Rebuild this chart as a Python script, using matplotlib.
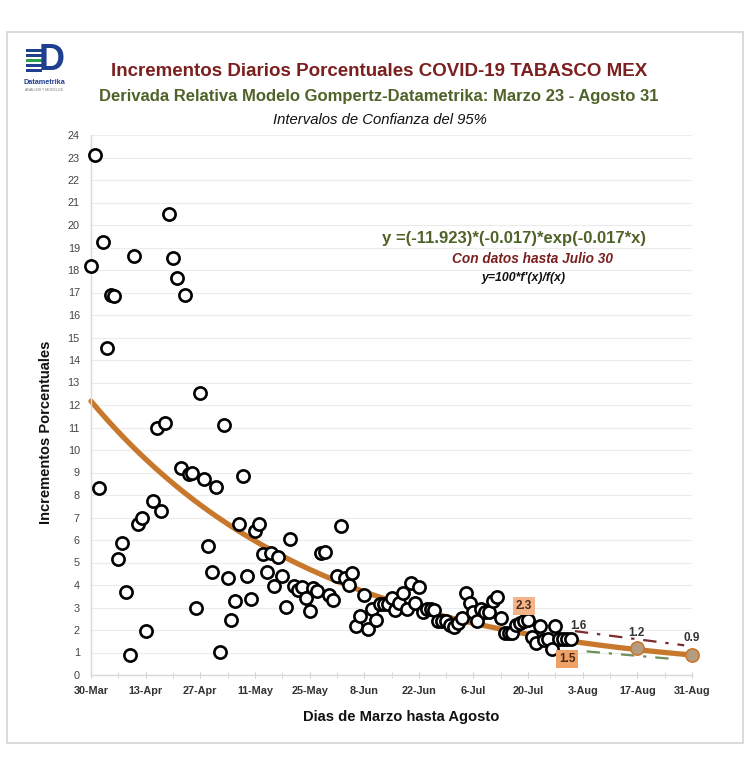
import matplotlib
matplotlib.use("Agg")
import matplotlib.pyplot as plt
import numpy as np
from matplotlib.patches import Rectangle

plt.rcParams['font.family'] = ['Liberation Sans', 'DejaVu Sans']

# ---------------- data ----------------
days = [0, 1, 2, 3, 4, 5, 6, 7, 8, 9, 10, 11, 12, 13, 14, 16, 17, 18, 19, 20,
        21, 22, 23, 24, 25, 26, 27, 28, 29, 30, 31, 32, 33, 34, 35, 36, 37, 38, 39, 40,
        41, 42, 43, 44, 45, 46, 47, 48, 49, 50, 51, 52, 53, 54, 55, 56, 57, 58, 59, 60,
        61, 62, 63, 64, 65, 66, 67, 68, 69, 70, 71, 72, 73, 74, 75, 76, 77, 78, 79, 80,
        81, 82, 83, 84, 85, 86, 87, 88, 89, 90, 91, 92, 93, 94, 95, 96, 97, 98, 99, 100,
        101, 102, 103, 104, 105, 106, 107, 108, 109, 110, 111, 112, 113, 114, 115, 116,
        117, 118, 119, 120, 121, 122, 123]
values = [18.2, 23.1, 8.3, 19.25, 14.55, 16.9, 16.85, 5.17, 5.88, 3.7, 0.89, 18.6, 6.72, 7.0,
          1.97, 7.72, 11.0, 7.3, 11.22, 20.5, 18.55, 17.65, 9.2, 16.9, 8.93, 8.98, 2.97, 12.53,
          8.7, 5.75, 4.59, 8.36, 1.04, 11.1, 4.3, 2.44, 3.3, 6.71, 8.84, 4.39, 3.39, 6.41, 6.71,
          5.36, 4.56, 5.41, 3.97, 5.24, 4.41, 3.04, 6.06, 3.97, 3.78, 3.93, 3.42, 2.83, 3.85,
          3.72, 5.41, 5.45, 3.56, 3.33, 4.4, 6.64, 4.32, 3.98, 4.55, 2.18, 2.63, 3.55, 2.03,
          2.92, 2.45, 3.15, 3.15, 3.17, 3.41, 2.89, 3.2, 3.63, 2.94, 4.07, 3.19, 3.9, 2.79,
          2.95, 2.92, 2.87, 2.41, 2.41, 2.41, 2.22, 2.12, 2.3, 2.55, 3.66, 3.21, 2.81, 2.41,
          2.92, 2.81, 2.81, 3.3, 3.45, 2.52, 1.87, 1.87, 1.87, 2.22, 2.3, 2.38, 2.45, 1.7,
          1.41, 2.16, 1.56, 1.59, 1.15, 2.16, 1.59, 1.59, 1.59, 1.59]

# Gompertz relative derivative model parameters (from the chart equation)
model_a = -11.923
model_b = -0.017
model_offset = 30          # model x of 30-Mar
curve_days = np.arange(0, 155)

# confidence interval lines
upper_days = [124, 152]
upper_vals = [1.95, 1.32]
lower_days = [127, 150]
lower_vals = [1.05, 0.7]

# projected points
proj_days = [140, 154]
proj_vals = [1.2, 0.9]

tick_days = [0, 14, 28, 42, 56, 70, 84, 98, 112, 126, 140, 154]
tick_labels = ['30-Mar', '13-Apr', '27-Apr', '11-May', '25-May', '8-Jun', '22-Jun',
               '6-Jul', '20-Jul', '3-Aug', '17-Aug', '31-Aug']

# ---------------- figure ----------------
W, H = 750, 776
fig = plt.figure(figsize=(W / 100, H / 100), dpi=100)
fig.patch.set_facecolor('white')

# outer frame
fig.add_artist(Rectangle((7 / W, 1 - 743 / H), (743 - 7) / W, (743 - 32) / H,
                         transform=fig.transFigure, fill=False,
                         edgecolor='#d4d4d4', lw=1.2))

ax_l, ax_r, ax_b, ax_t = 91, 692, 675, 135
ax = fig.add_axes([ax_l / W, 1 - ax_b / H, (ax_r - ax_l) / W, (ax_b - ax_t) / H])
ax.set_xlim(0, 154)
ax.set_ylim(0, 24)
ax.set_facecolor('white')

for s in ['top', 'right']:
    ax.spines[s].set_visible(False)
for s in ['left', 'bottom']:
    ax.spines[s].set_color('#d9d9d9')
    ax.spines[s].set_linewidth(1.0)

ax.set_yticks(range(0, 25))
ax.yaxis.grid(True, color='#ececec', lw=0.8)
ax.set_axisbelow(True)
ax.tick_params(axis='y', length=0, labelsize=7.8, labelcolor='#444444', pad=8)
ax.set_xticks(tick_days)
ax.set_xticks(np.arange(7, 154, 14), minor=True)
ax.set_xticklabels(tick_labels, fontweight='bold', fontsize=7.8, color='#333333',
                   family=['Liberation Sans Narrow', 'Liberation Sans'])
ax.tick_params(axis='x', which='both', length=4, color='#d0d0d0', direction='inout', pad=6)

# model curve
curve = 100 * model_a * model_b * np.exp(model_b * (curve_days + model_offset))
ax.plot(curve_days, curve, color='#C8782D', lw=3.8, solid_capstyle='round', zorder=2,
        clip_on=False)

# confidence intervals
ax.plot(upper_days, upper_vals, color='#7B2C2C', lw=1.6, ls=(0, (6, 4, 1.5, 4)), zorder=2)
ax.plot(lower_days, lower_vals, color='#6E8F5A', lw=1.6, ls=(0, (6, 4, 1.5, 4)), zorder=2)

# observed data
ax.plot(days, values, ls='none', marker='o', ms=8.8, mfc='white', mec='black',
        mew=1.9, zorder=4, clip_on=False)

# projected points
ax.plot(proj_days, proj_vals, ls='none', marker='o', ms=9.5, mfc='#B39C80',
        mec='#C8782D', mew=1.2, zorder=5, clip_on=False)

# value labels
ax.annotate('2.3', (111, 2.38), xytext=(0, 11), textcoords='offset points', ha='center',
            va='center', fontsize=8.5, fontweight='bold', color='#4a2a1a', zorder=6,
            bbox=dict(boxstyle='square,pad=0.25', fc='#F4B48A', ec='none'))
ax.annotate('1.5', (122, 1.59), xytext=(0, -14), textcoords='offset points', ha='center',
            va='center', fontsize=8.5, fontweight='bold', color='#4a2a1a', zorder=6,
            bbox=dict(boxstyle='square,pad=0.25', fc='#EFA065', ec='none'))
ax.annotate('1.6', (123, 1.95), xytext=(5, 4), textcoords='offset points', ha='center',
            va='center', fontsize=8.5, fontweight='bold', color='#333333', zorder=6)
ax.annotate('1.2', (proj_days[0], proj_vals[0]), xytext=(-1, 11), textcoords='offset points',
            ha='center', va='center', fontsize=8.5, fontweight='bold', color='#333333', zorder=6)
ax.annotate('0.9', (proj_days[1], proj_vals[1]), xytext=(0, 12), textcoords='offset points',
            ha='center', va='center', fontsize=8.5, fontweight='bold', color='#333333', zorder=6)

# equation texts
fig.text(514 / W, 1 - 239 / H, 'y =(-11.923)*(-0.017)*exp(-0.017*x)', ha='center', va='center',
         fontsize=12, fontweight='bold', color='#4F6228')
fig.text(532 / W, 1 - 259 / H, 'Con datos hasta Julio 30', ha='center', va='center',
         fontsize=9.8, fontweight='bold', style='italic', color='#7B1F1F')
fig.text(524 / W, 1 - 278 / H, "y=100*f'(x)/f(x)", ha='center', va='center',
         fontsize=8.8, fontweight='bold', style='italic', color='#111111')

# axis labels
fig.text(46 / W, 1 - 432 / H, 'Incrementos Porcentuales', rotation=90, ha='center',
         va='center', fontsize=10.5, fontweight='bold', color='#111111')
fig.text(401 / W, 1 - 717 / H, 'Dias de Marzo hasta Agosto', ha='center', va='center',
         fontsize=10.6, fontweight='bold', color='#111111')

# titles
fig.text(379 / W, 1 - 72 / H, 'Incrementos Diarios Porcentuales COVID-19 TABASCO MEX',
         ha='center', va='center', fontsize=13.5, fontweight='bold', color='#7B1F1F')
fig.text(379 / W, 1 - 97 / H, 'Derivada Relativa Modelo Gompertz-Datametrika: Marzo 23 - Agosto 31',
         ha='center', va='center', fontsize=12, fontweight='bold', color='#4F6228')
fig.text(380 / W, 1 - 120 / H, 'Intervalos de Confianza del 95%', ha='center', va='center',
         fontsize=10.7, style='italic', color='#111111')

# logo
fig.text(52 / W, 1 - 60 / H, 'D', ha='center', va='center', fontsize=26, fontweight='bold',
         color='#1F3F8F')
for yy, col in [(50, '#1F3F8F'), (55, '#1F3F8F'), (60, '#2E9E4F'),
                (65, '#1F3F8F'), (70, '#1F3F8F')]:
    fig.add_artist(Rectangle((26 / W, 1 - (yy + 2) / H), 16 / W, 3 / H,
                             transform=fig.transFigure, color=col, lw=0))
fig.text(44 / W, 1 - 83 / H, 'Datametrika', ha='center', va='center', fontsize=5.2,
         fontweight='bold', color='#1F3F8F')
fig.text(44 / W, 1 - 90 / H, 'ANALISIS Y MODELOS', ha='center', va='center', fontsize=2.6,
         color='#777777')

fig.savefig('out.png', dpi=100, facecolor='white')
